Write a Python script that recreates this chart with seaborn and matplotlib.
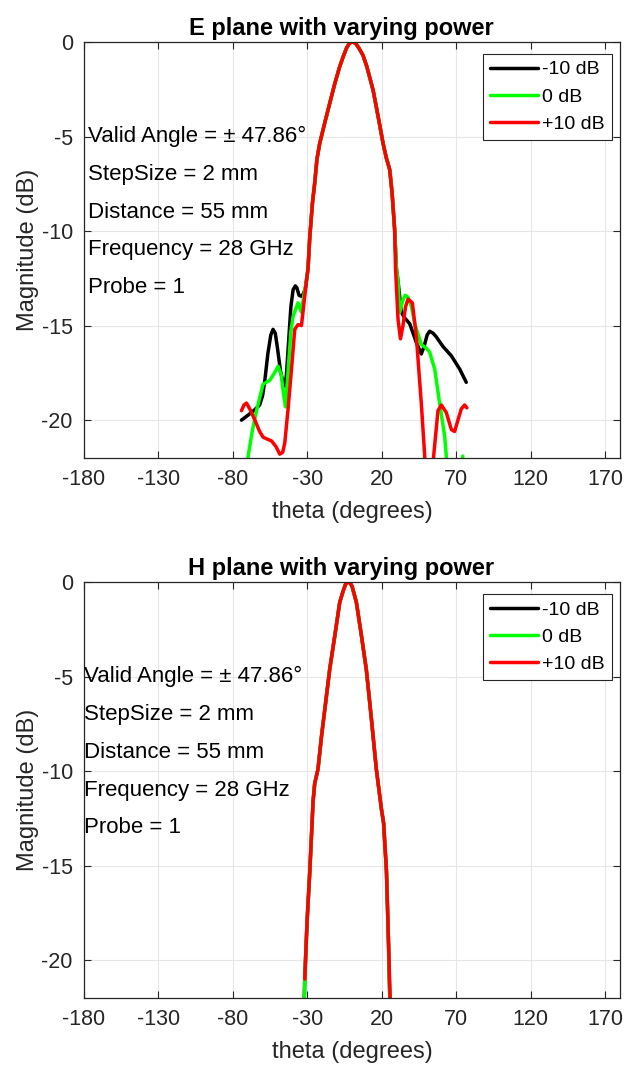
import numpy as np
import pandas as pd
import seaborn as sns
from matplotlib import pyplot as plt

# ---- data ----
# E plane: shared main lobe
e_main_theta = [-30.5, -29.5, -28.3, -26.5, -25, -23.5, -21.6, -18, -14.9, -11.5, -8.2, -5.5, -3.5,
                -1.5, 0.7, 2.5, 4.5, 7.4, 10, 14.2, 17.5, 20.9, 23, 25.4, 27, 28.7]
e_main_db = [-12.6, -12.0, -10.3, -8.5, -7.46, -6.2, -5.35, -4.2, -3.24, -2.2, -1.3, -0.7, -0.3,
             -0.05, 0, -0.08, -0.3, -0.7, -1.3, -2.54, -3.9, -5.35, -6.1, -6.76, -8.0, -9.93]

# -10 dB (black)
blk_left_theta = [-74.2, -70, -66, -62, -60, -58.5, -56.5, -54.5, -53, -51.5, -50, -48, -46, -45, -44,
                  -42.5, -41, -39.5, -38, -37, -35.5, -33.9, -32.5, -31.2]
blk_left_db = [-20.0, -19.75, -19.5, -19.2, -18.7, -17.9, -16.5, -15.5, -15.2, -15.4, -16.2, -17.4, -18.1,
               -18.2, -17.6, -15.8, -14.0, -13.1, -12.9, -13.0, -13.4, -13.45, -13.3, -13.0]
blk_right_theta = [29.9, 30.9, 33.2, 35.5, 38.8, 43.3, 46.6, 48.5, 50.5, 52.2, 54.5, 56.7, 61.1, 66.8,
                   72.4, 76.8]
blk_right_db = [-12.0, -12.6, -14.3, -14.6, -14.9, -15.9, -16.5, -16.1, -15.5, -15.3, -15.4, -15.6, -16.1,
                -16.6, -17.3, -18.0]

# 0 dB (green)
grn_left_theta = [-74, -71.5, -69.7, -67, -64.1, -59.7, -55.2, -52, -49.6, -47.5, -46, -44.6, -43, -41,
                  -39.5, -36.2, -33.9, -32.5, -31.2]
grn_left_db = [-26, -23.5, -21.9, -20.6, -19.5, -18.1, -17.9, -17.5, -17.15, -17.6, -18.6, -19.3, -17.5,
               -15.3, -14.5, -13.8, -14.3, -13.5, -12.9]
grn_right_theta = [29.9, 30.9, 32.1, 34, 35.8, 37.7, 40, 42.2, 46.6, 50, 52.2, 55.6, 58.9, 62.3, 63.4,
                   66, 70, 74.5]
grn_right_db = [-12.0, -12.6, -14.3, -13.7, -13.4, -13.5, -14.0, -14.9, -16.0, -16.2, -16.4, -17.3,
                -19.1, -20.85, -21.9, -24, -24, -21.9]

# +10 dB (red)
red_left_theta = [-74.2, -72.5, -70.8, -68, -65.2, -62, -59.7, -57, -54.0, -51, -48.5, -46.5, -45.1,
                  -43, -40.6, -38.4, -36.2, -33.9, -31.7]
red_left_db = [-19.5, -19.2, -19.1, -19.5, -20.0, -20.6, -20.9, -21.0, -21.1, -21.4, -21.8, -21.7, -21.2,
               -19.5, -17.3, -15.2, -14.95, -15.0, -13.45]
red_right_theta = [29.3, 31.0, 32.6, 34.3, 36, 37.7, 40.6, 43.3, 46.6, 48.9, 51, 53, 54.9, 57.8, 60.1,
                   63.4, 66.8, 69, 71.2, 73.5, 75.7, 77.2]
red_right_db = [-12.0, -14.7, -15.7, -15.0, -14.0, -13.6, -13.8, -15.6, -19.1, -21.9, -28, -28, -21.9,
                -19.5, -19.2, -19.6, -20.5, -20.6, -20.0, -19.4, -19.2, -19.35]

# H plane
h_theta = [-31.7, -30.1, -28.3, -26.1, -25, -22.8, -20.5, -14.9, -11.5, -8.2, -6, -4.3, -2.6, -1.2,
           0.2, 3.0, 6.4, 9.7, 13.1, 16.4, 19.8, 21.3, 23.2, 24.5, 25.4]
h_db = [-21.0, -17.9, -15.3, -11.6, -10.65, -9.9, -8.2, -4.6, -2.84, -1.08, -0.5, -0.12, 0, -0.05,
        -0.25, -1.08, -2.84, -4.65, -7.25, -9.9, -12.0, -12.76, -15.3, -18.85, -21.9]
h_blk_ends_theta = [-32.3, 26.8]
h_grn_ends_theta = [-32.2, 27.3]
h_red_ends_theta = [-31.7, 26.0]
h_ends_db = [-23.0, -23.0]

labels = ['-10 dB', '0 dB', '+10 dB']
colors = ['black', '#00ff00', 'red']
annot = ['Valid Angle = \u00b1 47.86\u00b0', 'StepSize = 2 mm', 'Distance = 55 mm',
         'Frequency = 28 GHz', 'Probe = 1']
annot_y = [-5, -7, -9, -11, -13]
xticks = list(range(-180, 171, 50))
yticks = [-20, -15, -10, -5, 0]

sns.set_style('ticks')
plt.rcParams['font.family'] = ['Liberation Sans', 'DejaVu Sans']
plt.rcParams['axes.unicode_minus'] = False


def e_series(lt, ld, rt, rd):
    return lt + e_main_theta + rt, ld + e_main_db + rd


def h_series(ends):
    return [ends[0]] + h_theta + [ends[1]], [h_ends_db[0]] + h_db + [h_ends_db[1]]


e_data = [e_series(blk_left_theta, blk_left_db, blk_right_theta, blk_right_db),
          e_series(grn_left_theta, grn_left_db, grn_right_theta, grn_right_db),
          e_series(red_left_theta, red_left_db, red_right_theta, red_right_db)]
h_data = [h_series(h_blk_ends_theta), h_series(h_grn_ends_theta),
          (h_theta[:-1] + [h_red_ends_theta[1]], h_db[:-1] + [h_ends_db[1]])]

fig = plt.figure(figsize=(6.29, 10.65), dpi=100)
ax1 = fig.add_axes([0.1335, 0.5700, 0.852, 0.3906])
ax2 = fig.add_axes([0.1335, 0.0629, 0.852, 0.3906])

for ax, data, title, tx in [(ax1, e_data, 'E plane with varying power', -177.5),
                            (ax2, h_data, 'H plane with varying power', -180)]:
    for (th, db), lab, c in zip(data, labels, colors):
        df = pd.DataFrame({'theta': th, 'db': db})
        sns.lineplot(data=df, x='theta', y='db', sort=False, estimator=None, color=c,
                     lw=2.5, label=lab, ax=ax)
    ax.set_xlim(-180, 180)
    ax.set_ylim(-22, 0)
    ax.set_xticks(xticks)
    ax.set_yticks(yticks)
    ax.grid(True, color='#e6e6e6', lw=0.8)
    ax.set_axisbelow(True)
    ax.tick_params(direction='in', top=True, right=True, length=5, labelsize=15.5,
                   colors='#262626', pad=8)
    for s in ax.spines.values():
        s.set_color('#262626')
        s.set_linewidth(0.9)
    ax.set_title(title, fontsize=17, fontweight='bold', pad=5, x=0.48, color='black')
    ax.set_xlabel('theta (degrees)', fontsize=17, color='#262626', labelpad=8)
    ax.set_ylabel('Magnitude (dB)', fontsize=17, color='#262626', labelpad=2)
    for t, y in zip(annot, annot_y):
        ax.text(tx, y, t, fontsize=16, va='center', ha='left', color='black')
    leg = ax.legend(loc='upper right', bbox_to_anchor=(0.985, 0.971), fontsize=14,
                    frameon=True, fancybox=False, framealpha=1, edgecolor='#262626',
                    handlelength=2.45, handletextpad=0.25, labelspacing=0.5, borderpad=0.35,
                    borderaxespad=0)
    leg.get_frame().set_linewidth(0.8)
    for txt in leg.get_texts():
        txt.set_color('black')

plt.savefig('out.png', dpi=100)
